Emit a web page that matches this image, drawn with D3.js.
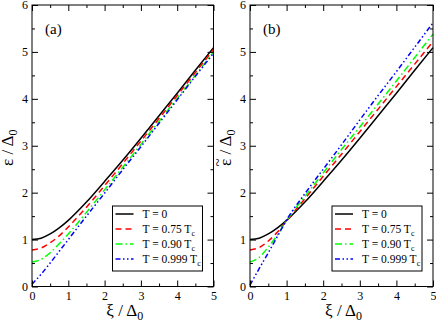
<!DOCTYPE html>
<html>
<head>
<meta charset="utf-8">
<script src="https://cdn.jsdelivr.net/npm/d3@7"></script>
<style>
  body { margin: 0; background: #fff; }
  text { font-family: "Liberation Serif", "Times New Roman", serif; }
</style>
</head>
<body>
<svg width="436" height="324"></svg>
<script>
// values
var xi = [0, 0.25, 0.5, 0.75, 1, 1.5, 2, 2.5, 3, 3.5, 4, 4.5, 5];

// panel (a)
var a_T0   = [1.00, 1.03, 1.12, 1.25, 1.41, 1.80, 2.24, 2.69, 3.16, 3.64, 4.12, 4.61, 5.09];
var a_T075 = [0.78, 0.82, 0.93, 1.08, 1.27, 1.69, 2.15, 2.62, 3.10, 3.58, 4.07, 4.56, 5.05];
var a_T090 = [0.52, 0.58, 0.72, 0.91, 1.12, 1.58, 2.06, 2.54, 3.03, 3.52, 4.01, 4.50, 5.00];
var a_T999 = [0.05, 0.26, 0.50, 0.75, 1.00, 1.50, 1.99, 2.49, 2.98, 3.48, 3.98, 4.48, 4.97];

// panel (b)
var b_T0   = [1.00, 1.03, 1.12, 1.25, 1.41, 1.80, 2.24, 2.69, 3.16, 3.64, 4.12, 4.61, 5.09];
var b_T075 = [0.78, 0.83, 0.97, 1.16, 1.40, 1.87, 2.35, 2.82, 3.30, 3.78, 4.26, 4.74, 5.22];
var b_T090 = [0.52, 0.62, 0.84, 1.10, 1.41, 1.92, 2.42, 2.92, 3.40, 3.89, 4.38, 4.88, 5.38];
var b_T999 = [0.03, 0.38, 0.72, 1.07, 1.42, 1.98, 2.50, 3.02, 3.55, 4.07, 4.58, 5.10, 5.62];

var legendLabels = [["T = 0", ""], ["T = 0.75 T", "c"], ["T = 0.90 T", "c"], ["T = 0.999 T", "c"]];
var colors = ["#000000", "#ff0000", "#00ff00", "#0000ff"];
var dashes = [null, "6,4", "7,3,1.5,3", "5,2.5,1.5,2.5,1.5,2.5"];
var xTicks = [0, 1, 2, 3, 4, 5];
var yTicks = [0, 1, 2, 3, 4, 5, 6];
var xMinor = [0.5, 1.5, 2.5, 3.5, 4.5];
var yMinor = [0.5, 1.5, 2.5, 3.5, 4.5, 5.5];

var panels = [
  { tag: "(a)", x0: 32, x1: 213.5, tilde: false, series: [a_T0, a_T075, a_T090, a_T999] },
  { tag: "(b)", x0: 250, x1: 433, tilde: true, series: [b_T0, b_T075, b_T090, b_T999] }
];
var yTop = 5, yBot = 286.5;

var svg = d3.select("svg");

panels.forEach(function(p) {
  var x = d3.scaleLinear().domain([0, 5]).range([p.x0, p.x1]);
  var y = d3.scaleLinear().domain([0, 6]).range([yBot, yTop]);
  var g = svg.append("g");

  // curves
  var line = d3.line()
      .x(function(d) { return x(d[0]); })
      .y(function(d) { return y(d[1]); })
      .curve(d3.curveMonotoneX);
  p.series.forEach(function(s, i) {
    g.append("path")
      .datum(xi.map(function(v, k) { return [v, s[k]]; }))
      .attr("d", line)
      .attr("fill", "none")
      .attr("stroke", colors[i])
      .attr("stroke-width", 1.5)
      .attr("stroke-dasharray", dashes[i]);
  });

  // axes, ticks pointing inward on every side
  function ax(gen, tr, vals, size, labels) {
    var a = g.append("g").attr("transform", tr)
      .call(gen.tickValues(vals).tickSize(size).tickPadding(labels ? 5 : 0)
              .tickFormat(labels ? d3.format("d") : ""));
    a.select(".domain").remove();
    a.attr("font-family", null);
    a.selectAll("line").attr("stroke", "#000");
    a.selectAll("text").attr("font-size", 12).attr("fill", "#000");
    return a;
  }
  var bx = ax(d3.axisBottom(x), "translate(0," + yBot + ")", xTicks, -6, true);
  bx.selectAll("text").attr("dy", "0.85em").attr("y", 3);
  ax(d3.axisBottom(x), "translate(0," + yBot + ")", xMinor, -3, false);
  ax(d3.axisTop(x), "translate(0," + yTop + ")", xTicks, -6, false);
  ax(d3.axisTop(x), "translate(0," + yTop + ")", xMinor, -3, false);
  var ly = ax(d3.axisLeft(y), "translate(" + p.x0 + ",0)", yTicks, -6, true);
  ly.selectAll("text").attr("x", -4);
  ax(d3.axisLeft(y), "translate(" + p.x0 + ",0)", yMinor, -3, false);
  ax(d3.axisRight(y), "translate(" + p.x1 + ",0)", yTicks, -6, false);
  ax(d3.axisRight(y), "translate(" + p.x1 + ",0)", yMinor, -3, false);

  g.append("rect")
    .attr("x", p.x0).attr("y", yTop)
    .attr("width", p.x1 - p.x0).attr("height", yBot - yTop)
    .attr("fill", "none").attr("stroke", "#000").attr("stroke-width", 1);

  // panel tag
  g.append("text").attr("x", p.x0 + 13).attr("y", 34)
    .attr("font-size", 15).text(p.tag);

  // x label
  var xl = g.append("text")
    .attr("x", (p.x0 + p.x1) / 2 + 2).attr("y", 316)
    .attr("text-anchor", "middle").attr("font-size", 17);
  xl.append("tspan").text("ξ / Δ");
  xl.append("tspan").attr("dy", 4).attr("font-size", 12).text("0");

  // y label
  var yg = g.append("g")
    .attr("transform", "translate(" + (p.x0 - 19) + "," + ((yTop + yBot) / 2 + 2) + ") rotate(-90)");
  var yl = yg.append("text")
    .attr("text-anchor", "middle").attr("font-size", 17);
  yl.append("tspan").text("ε / Δ");
  yl.append("tspan").attr("dy", 4).attr("font-size", 12).text("0");
  if (p.tilde) {
    var e = yl.node().getExtentOfChar(0);
    yg.append("text")
      .attr("x", e.x + e.width / 2).attr("y", -8)
      .attr("text-anchor", "middle").attr("font-size", 15).text("~");
  }

  // legend
  var lx = p.x1 - 101, ly0 = 206;
  g.append("rect").attr("x", lx).attr("y", ly0).attr("width", 90).attr("height", 65)
    .attr("fill", "#fff").attr("stroke", "#000").attr("stroke-width", 1);
  legendLabels.forEach(function(l, i) {
    var yy = ly0 + 8 + i * 15;
    g.append("line")
      .attr("x1", lx + 3).attr("x2", lx + 21).attr("y1", yy).attr("y2", yy)
      .attr("stroke", colors[i]).attr("stroke-width", 1.5)
      .attr("stroke-dasharray", dashes[i]);
    var t = g.append("text").attr("x", lx + 30).attr("y", yy + 4).attr("font-size", 11.5);
    t.append("tspan").text(l[0]);
    if (l[1]) t.append("tspan").attr("dy", 3).attr("font-size", 8).text(l[1]);
  });
});
</script>
</body>
</html>
